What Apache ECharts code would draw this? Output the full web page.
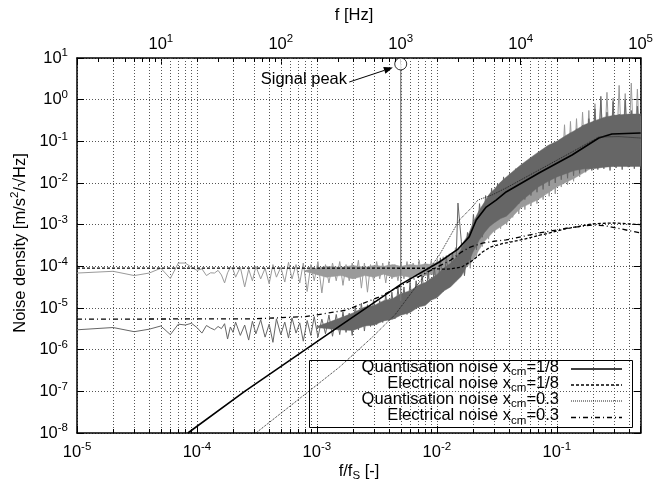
<!DOCTYPE html>
<html><head><meta charset="utf-8">
<script src="https://cdn.jsdelivr.net/npm/echarts@6/dist/echarts.min.js"></script>
<style>html,body{margin:0;padding:0;background:#fff}#c{width:656px;height:482px}</style>
</head><body><div id="c"></div>
<script>
// ---------- data ----------
// measured spectra: common frequency grid (f/fs)
const noiseF = [
1e-5,2e-5,3e-5,4e-5,5e-5,6e-5,7e-5,8e-5,9e-5,1e-4,1.1e-4,1.2e-4,1.3e-4,1.4e-4,1.5e-4,1.6e-4,1.7e-4,1.8e-4,1.9e-4,2e-4,
2.1e-4,2.3e-4,2.5e-4,2.7e-4,2.9e-4,3.1e-4,3.4e-4,3.7e-4,4.0e-4,4.3e-4,4.6e-4,5.0e-4,5.4e-4,5.8e-4,6.2e-4,6.7e-4,7.2e-4,7.7e-4,8.3e-4,8.9e-4,9.5e-4,1.02e-3,1.1e-3,1.18e-3,1.26e-3,1.35e-3,1.45e-3,
1.55e-3,1.65e-3,1.75e-3,1.86e-3,1.97e-3,2.09e-3,2.22e-3,2.35e-3,2.49e-3,2.64e-3,2.8e-3,2.97e-3,3.15e-3,3.34e-3,3.54e-3,3.75e-3,3.98e-3,4.22e-3,4.47e-3,4.74e-3,5.02e-3,5.32e-3,5.64e-3,5.98e-3,6.34e-3,6.72e-3,7.12e-3,7.55e-3,8.0e-3,8.48e-3,8.99e-3,9.53e-3,1.01e-2,
1.07e-2,1.13e-2,1.2e-2,1.27e-2,1.35e-2,1.43e-2,1.5e-2,1.6e-2,1.7e-2,1.8e-2,1.9e-2,2.02e-2,2.14e-2,2.27e-2,2.4e-2,2.55e-2,2.7e-2,2.86e-2,3.03e-2,3.21e-2,3.4e-2,3.6e-2,3.82e-2,4.05e-2,4.29e-2,4.55e-2,4.82e-2,5.11e-2,5.42e-2,5.74e-2,6.09e-2,6.45e-2,6.84e-2,7.25e-2,7.69e-2,8.15e-2,8.64e-2,9.16e-2,9.71e-2,
0.103,0.109,0.116,0.123,0.13,0.138,0.146,0.155,0.164,0.174,0.185,0.196,0.208,0.22,0.233,0.247,0.262,0.278,0.295,0.312,0.331,0.351,0.372,0.394,0.418,0.443,0.47,0.498];

const darkNoise = [
3.0e-6,3.4e-6,2.7e-6,3.1e-6,3.7e-6,2.3e-6,4.1e-6,3.9e-6,4.3e-6,3.4e-6,2.5e-6,3.8e-6,3.3e-6,3.0e-6,3.6e-6,3.2e-6,4.2e-6,1.8e-6,3.5e-6,2.6e-6,
4.6e-6,2.2e-6,3.9e-6,1.7e-6,4.8e-6,2.4e-6,5.2e-6,2.0e-6,4.1e-6,1.5e-6,5.5e-6,2.3e-6,4.6e-6,1.9e-6,5.8e-6,2.5e-6,4.4e-6,1.6e-6,5.0e-6,2.2e-6,6.2e-6,2.0e-6,5.4e-6,2.4e-6,6.8e-6,2.1e-6,7.0e-6,
2.3e-6,8.0e-6,2.6e-6,7.5e-6,2.2e-6,1.1e-5,3.0e-6,1.3e-5,2.8e-6,1.2e-5,3.6e-6,1.6e-5,4.0e-6,1.5e-5,4.5e-6,2.1e-5,5.0e-6,2.4e-5,5.5e-6,3.0e-5,7.0e-6,3.2e-5,7.0e-6,4.0e-5,9.0e-6,4.5e-5,1.1e-5,6.0e-5,1.3e-5,7.5e-5,1.6e-5,9.5e-5,2.0e-5,
1.6e-4,2.5e-5,1.8e-4,3.5e-5,2.2e-4,4.5e-5,3.3e-3,4.0e-4,6e-5,6.5e-4,1.2e-4,1.8e-3,2.5e-4,3.2e-3,5e-4,5e-3,9e-4,7.5e-3,1.2e-3,1.0e-2,1.6e-3,1.4e-2,2.0e-3,1.7e-2,2.6e-3,2.2e-2,3.2e-3,2.6e-2,4.0e-3,3.2e-2,5.0e-3,3.8e-2,6.0e-3,5.0e-2,7.0e-3,6.0e-2,8.5e-3,7.5e-2,1.0e-2,
9e-2,1.2e-2,0.12,1.3e-2,0.16,1.5e-2,0.2,1.7e-2,0.24,1.9e-2,0.35,2.0e-2,0.6,2.1e-2,1.2,2.2e-2,0.5,2.0e-2,0.9,2.3e-2,0.45,2.1e-2,1.0,2.4e-2,0.55,2.2e-2,0.7,2.5e-2];

const lightNoise = [
6.9e-5,7.6e-5,6.0e-5,6.9e-5,9.0e-5,5.1e-5,1.2e-4,1.2e-4,9.5e-5,8.0e-5,8.7e-5,6.0e-5,7.0e-5,6.9e-5,8.0e-5,6.2e-5,4.0e-5,7.0e-5,9.5e-5,8.5e-5,
5.5e-5,9.5e-5,3.2e-5,8.5e-5,4.5e-5,1.0e-4,5.0e-5,9.0e-5,3.8e-5,1.1e-4,5.5e-5,9.5e-5,4.2e-5,1.25e-4,5.0e-5,1.1e-4,4.0e-5,1.2e-4,2.5e-5,1.1e-4,4.5e-5,1.3e-4,2.3e-5,1.1e-4,4.0e-5,1.2e-4,4.5e-5,
1.3e-4,3.5e-5,1.1e-4,4.5e-5,1.2e-4,5.0e-5,1.4e-4,3.0e-5,1.2e-4,2.4e-5,1.1e-4,4.5e-5,1.3e-4,5.0e-5,1.2e-4,4.0e-5,1.3e-4,5.0e-5,1.1e-4,4.5e-5,1.2e-4,5.0e-5,1.3e-4,4.0e-5,1.2e-4,5.5e-5,1.4e-4,4.5e-5,1.2e-4,5.0e-5,1.4e-4,4.5e-5,1.5e-4,
4.5e-5,1.7e-4,5.0e-5,2.0e-4,5.0e-5,2.8e-4,5.5e-5,3.5e-4,6.0e-5,6e-4,9e-5,1.2e-3,1.6e-4,2e-3,3e-4,3.5e-3,4.5e-4,5e-3,6.5e-4,7e-3,8e-4,1e-2,1.0e-3,1.3e-2,1.5e-3,1.7e-2,1.8e-3,2.2e-2,2.3e-3,2.8e-2,2.8e-3,3.5e-2,3.2e-3,4.5e-2,4.0e-3,5.5e-2,4.8e-3,7.0e-2,5.5e-3,
9e-2,8e-3,0.25,9e-3,0.3,1.1e-2,0.35,1.4e-2,0.5,1.8e-2,0.55,2.3e-2,0.8,2.6e-2,1.0,2.8e-2,1.5,2.8e-2,1.1,3.0e-2,2.2,2.9e-2,1.4,3.0e-2,2.5,2.9e-2,1.8,3.0e-2];

// dense core of the measured bands (lower / upper edge)
const darkBandF  = [1e-3,1.5e-3,2e-3,2.5e-3,3e-3,3.6e-3,4.3e-3,5e-3,6e-3,7e-3,8e-3,9e-3,1e-2,1.15e-2,1.3e-2,1.45e-2,1.6e-2,1.8e-2,2e-2,2.25e-2,2.5e-2,2.75e-2,3e-2,3.4e-2,3.8e-2,4.4e-2,5e-2,6e-2,7e-2,8.5e-2,0.1,0.12,0.14,0.17,0.2,0.25,0.3,0.4,0.5];
const darkBandLo = [3.4e-6,3.0e-6,2.9e-6,3.7e-6,3.9e-6,4.9e-6,5.4e-6,6.7e-6,7.8e-6,1.05e-5,1.15e-5,1.55e-5,1.75e-5,2.6e-5,3.2e-5,4.4e-5,5.8e-5,1.1e-4,2.2e-4,4.2e-4,6.5e-4,9e-4,1.1e-3,1.4e-3,1.6e-3,2.4e-3,3.6e-3,5.5e-3,8e-3,1.1e-2,1.4e-2,1.7e-2,2e-2,2.2e-2,2.2e-2,2.4e-2,2.5e-2,2.5e-2,2.5e-2];
const darkBandHi = [3.6e-6,5.5e-6,7.6e-6,1.05e-5,1.15e-5,1.5e-5,1.7e-5,2.2e-5,2.6e-5,3.5e-5,4.1e-5,5.2e-5,6.3e-5,9.2e-5,1.18e-4,1.65e-4,2.6e-4,5e-4,1.1e-3,2.2e-3,3.5e-3,5.5e-3,7e-3,1.05e-2,1.4e-2,2e-2,2.7e-2,4e-2,5.5e-2,8e-2,0.1,0.14,0.18,0.25,0.3,0.38,0.42,0.45,0.45];
const lightBandF  = [8e-4,1.2e-3,1.6e-3,2e-3,2.5e-3,3e-3,3.6e-3,4.3e-3,5e-3,6e-3,7e-3,8e-3,9e-3,1e-2,1.15e-2,1.3e-2,1.45e-2,1.6e-2,1.8e-2,2e-2,2.25e-2,2.5e-2,3e-2,3.8e-2,5e-2,7e-2,0.1,0.14,0.2,0.3,0.4,0.5];
const lightBandLo = [7.5e-5,5.5e-5,6e-5,5e-5,6e-5,5.5e-5,6.5e-5,5.5e-5,6e-5,5.5e-5,6.5e-5,6e-5,6.5e-5,6e-5,6.5e-5,6e-5,7e-5,8e-5,1e-4,1.4e-4,2.5e-4,4e-4,7e-4,1.1e-3,2.5e-3,4e-3,8e-3,1.3e-2,2.4e-2,2.8e-2,2.8e-2,2.8e-2];
const lightBandHi = [8e-5,1.0e-4,9.5e-5,1.05e-4,9.5e-5,1.05e-4,1.0e-4,1.1e-4,1.0e-4,1.1e-4,1.05e-4,1.15e-4,1.1e-4,1.25e-4,1.5e-4,1.8e-4,2.4e-4,3.2e-4,5.5e-4,9e-4,1.8e-3,3e-3,5.5e-3,9e-3,1.8e-2,3.5e-2,6.5e-2,0.12,0.22,0.35,0.4,0.4];

// signal peak
const peakF = [5e-3, 5e-3];
const peakV = [1.5e-5, 7.2];
const peakArrowF = [1.86e-3, 4.3e-3];
const peakArrowV = [2.65, 5.9];

// model curves
const q18F = [8.4e-5,2.5e-4,1.27e-3,5e-3,1.05e-2,1.5e-2,1.86e-2,2.13e-2,2.58e-2,3.12e-2,3.78e-2,7.1e-2,0.134,0.224,0.288,0.5];
const q18V = [1e-8,1e-7,2.5e-6,3.7e-5,1.27e-4,2.6e-4,5.1e-4,1.29e-3,2.65e-3,3.9e-3,6.1e-3,1.74e-2,4.7e-2,0.12,0.15,0.158];
const e18F = [1e-5,8e-3,1.2e-2,1.6e-2,2e-2,2.4e-2,2.8e-2,3.5e-2,5e-2,7.1e-2,0.12,0.2,0.3,0.5];
const e18V = [9.1e-5,9.0e-5,8.5e-5,9.5e-5,1.4e-4,2.2e-4,2.9e-4,3.5e-4,4.3e-4,5.5e-4,8e-4,1.05e-3,1.1e-3,1.0e-3];
const q03F = [3.1e-4,1.54e-3,2.9e-3,4.5e-3,8.6e-3,1.05e-2,1.54e-2,1.97e-2,2.2e-2,2.9e-2,3.78e-2,7.1e-2,0.134,0.224,0.33,0.5];
const q03V = [1e-8,3.8e-7,2.0e-6,7e-6,8.5e-5,1.87e-4,1.29e-3,2.65e-3,3.9e-3,5.2e-3,7.6e-3,2.05e-2,5.55e-2,0.127,0.13,0.12];
const e03F = [1e-5,3e-4,8e-4,1.76e-3,3.3e-3,6.2e-3,1e-2,1.3e-2,1.6e-2,1.9e-2,2.4e-2,3e-2,3.78e-2,7.1e-2,0.12,0.196,0.25,0.35,0.5];
const e03V = [5.4e-6,5.5e-6,6.2e-6,8.9e-6,1.84e-5,4.7e-5,9.5e-5,1.4e-4,2.2e-4,2.9e-4,3.6e-4,4.0e-4,4.3e-4,6.3e-4,8.2e-4,9.8e-4,9.5e-4,7.8e-4,6.3e-4];

// axes
const xRange = [1e-5, 0.5];      // f/fs
const xTopRange = [2, 1e5];      // f [Hz]
const yRange = [1e-8, 10];
const xDecades = [1e-5,1e-4,1e-3,1e-2,1e-1];
const xTopDecades = [1,10,100,1000,10000];
const minorMult = [2,3,4,5,6,7,8,9];

const legendNames = ['Quantisation noise x{sub|cm}=1/8','Electrical noise x{sub|cm}=1/8','Quantisation noise x{sub|cm}=0.3','Electrical noise x{sub|cm}=0.3'];

// ---------- chart ----------
const FONT = '"Liberation Sans", Arial, Helvetica, sans-serif';
const FS = 16.5, FSS = 11.5;
const DARK = '#666666', LIGHT = '#9a9a9a';

function pow10(v){
  const e = Math.log10(v), r = Math.round(e);
  if (Math.abs(e - r) > 1e-6) return '';
  return '10{sup|' + r + '}';
}
const supRich = {sup:{fontSize:FSS, lineHeight:FSS, verticalAlign:'top', fontFamily:FONT, color:'#000'}};
const subRich = {sub:{fontSize:FSS, lineHeight:FSS, verticalAlign:'bottom', fontFamily:FONT, color:'#000'}};

const xMinor = [];
xDecades.forEach(d => minorMult.forEach(m => { const v = d*m; if (v < xRange[1]*0.999) xMinor.push(v); }));
const xTopMinor = [];
xTopDecades.forEach(d => minorMult.forEach(m => { const v = d*m; if (v > xTopRange[0]*1.001 && v < xTopRange[1]) xTopMinor.push(v); }));

const zip = (a,b) => a.map((v,i)=>[v,b[i]]);

function bandSeries(name, F, Lo, Hi, color, z){
  return {
    name, type:'custom', z, silent:true, clip:true,
    data:[[F[0], Lo[0]]],
    renderItem:(params, api)=>{
      const pts = [];
      for (let i=0;i<F.length;i++) pts.push(api.coord([F[i], Hi[i]]));
      for (let i=F.length-1;i>=0;i--) pts.push(api.coord([F[i], Lo[i]]));
      return {type:'polygon', shape:{points:pts}, style:{fill:color, stroke:color, lineWidth:0.5}};
    }
  };
}

const axisCommon = {
  type:'log', logBase:10,
  axisLine:{show:true, onZero:false, lineStyle:{color:'#000', width:1.5}},
  axisTick:{show:true, inside:true, length:7, lineStyle:{color:'#000', width:1}},
  minorTick:{show:false},
  splitLine:{show:false},
};
const labelCommon = {color:'#000', fontSize:FS, lineHeight:22, fontFamily:FONT, formatter:pow10, rich:supRich,
  showMinLabel:true, showMaxLabel:true, hideOverlap:false};

const modelLine = (name, F, V, style) => ({name, type:'line', z:5, data:zip(F,V), showSymbol:false, symbol:'none',
  smooth:false, lineStyle:style, silent:true});

const option = {
  animation:false,
  backgroundColor:'#fff',
  grid:{left:77, right:14, top:58, bottom:49, containLabel:false},
  xAxis:[
    Object.assign({}, axisCommon, {
      min:xRange[0], max:xRange[1], position:'bottom', gridIndex:0,
      axisLabel:Object.assign({}, labelCommon, {margin:8}),
      splitLine:{show:true, lineStyle:{color:'#555', type:[1,2], width:1}}
    }),
    Object.assign({}, axisCommon, {
      min:xTopRange[0], max:xTopRange[1], position:'top', gridIndex:0,
      axisLabel:Object.assign({}, labelCommon, {margin:3})
    })
  ],
  yAxis:[
    Object.assign({}, axisCommon, {
      min:yRange[0], max:yRange[1], position:'left',
      axisLabel:Object.assign({}, labelCommon, {margin:9}),
      splitLine:{show:true, lineStyle:{color:'#555', type:[1,2], width:1}}
    }),
    Object.assign({}, axisCommon, {
      min:yRange[0], max:yRange[1], position:'right',
      axisLabel:{show:false}
    })
  ],
  series:[
    { // minor vertical grid + bottom minor ticks
      type:'custom', name:'minor grid', z:1, silent:true, xAxisIndex:0, yAxisIndex:0,
      data:xMinor.map(v=>[v,1]),
      renderItem:(params, api)=>{
        const cs = params.coordSys;
        const x = Math.round(api.coord([api.value(0),1])[0]) + 0.5;
        const yb = cs.y + cs.height;
        return {type:'group', children:[
          {type:'line', shape:{x1:x,y1:cs.y,x2:x,y2:yb}, style:{stroke:'#555', lineDash:[1,2], lineWidth:1}},
          {type:'line', shape:{x1:x,y1:yb,x2:x,y2:yb-4}, style:{stroke:'#000', lineWidth:1}}
        ]};
      }
    },
    { // top axis minor ticks
      type:'custom', name:'top minor ticks', z:8, silent:true, xAxisIndex:1, yAxisIndex:0,
      data:xTopMinor.map(v=>[v,1]),
      renderItem:(params, api)=>{
        const cs = params.coordSys;
        const x = Math.round(api.coord([api.value(0),1])[0]) + 0.5;
        return {type:'line', shape:{x1:x,y1:cs.y,x2:x,y2:cs.y+4}, style:{stroke:'#000', lineWidth:1}};
      }
    },
    bandSeries('light band', lightBandF, lightBandLo, lightBandHi, LIGHT, 2),
    {name:'Measured noise (light)', type:'line', z:2, data:zip(noiseF, lightNoise), showSymbol:false, symbol:'none',
     lineStyle:{color:LIGHT, width:1}, silent:true},
    bandSeries('dark band', darkBandF, darkBandLo, darkBandHi, DARK, 3),
    {name:'Measured noise (dark)', type:'line', z:3, data:zip(noiseF, darkNoise), showSymbol:false, symbol:'none',
     lineStyle:{color:DARK, width:1}, silent:true},
    {name:'Signal peak line', type:'line', z:4, data:zip(peakF, peakV), showSymbol:false, symbol:'none',
     lineStyle:{color:'#777', width:1.2}, silent:true},
    modelLine('Quantisation noise x_cm=1/8', q18F, q18V, {color:'#000', width:1.6}),
    modelLine('Electrical noise x_cm=1/8', e18F, e18V, {color:'#000', width:1.3, type:[3,2]}),
    modelLine('Quantisation noise x_cm=0.3', q03F, q03V, {color:'#222', width:1, type:[1,1]}),
    modelLine('Electrical noise x_cm=0.3', e03F, e03V, {color:'#000', width:1.3, type:[5,3,1,3]}),
    {name:'Signal peak', type:'scatter', z:6, data:[[peakF[1], peakV[1]]], symbol:'circle', symbolSize:12,
     itemStyle:{color:'#fff', borderColor:'#000', borderWidth:1}, silent:true}
  ],
  graphic:[]
};

// legend (drawn as graphic so text can be right-aligned with sample on the right)
const legStyles = [
  {lineDash:null, width:1.6, color:'#000'},
  {lineDash:[3,2], width:1.3, color:'#000'},
  {lineDash:[1,1], width:1, color:'#222'},
  {lineDash:[5,3,1,3], width:1.3, color:'#000'}
];
const legRowY = [369, 385, 401, 417.5];
option.graphic.push({type:'rect', shape:{x:309.5, y:360.5, width:323, height:67}, style:{fill:null, stroke:'#000', lineWidth:1}, z:20, silent:true});
legendNames.forEach((t,i)=>{
  option.graphic.push({type:'text', x:559, y:legRowY[i]-2, z:20, silent:true,
    style:{text:t, align:'right', verticalAlign:'middle', fontSize:FS, lineHeight:22, fontFamily:FONT, fill:'#000', rich:subRich}});
  option.graphic.push({type:'line', z:20, silent:true, shape:{x1:571, y1:legRowY[i], x2:622, y2:legRowY[i]},
    style:{stroke:legStyles[i].color, lineWidth:legStyles[i].width, lineDash:legStyles[i].lineDash}});
});
// titles and annotation
option.graphic.push({type:'text', x:354, y:15, z:20, silent:true,
  style:{text:'f [Hz]', align:'center', verticalAlign:'middle', fontSize:FS, fontFamily:FONT, fill:'#000'}});
option.graphic.push({type:'text', x:359, y:471, z:20, silent:true,
  style:{text:'f/f{sub|S} [-]', align:'center', verticalAlign:'middle', fontSize:FS, lineHeight:22, fontFamily:FONT, fill:'#000', rich:subRich}});
option.graphic.push({type:'text', x:20, y:243, rotation:Math.PI/2, z:20, silent:true,
  style:{text:'Noise density [m/s{sup|2}/\u221AHz]', align:'center', verticalAlign:'middle', fontSize:FS, lineHeight:22, fontFamily:FONT, fill:'#000', rich:supRich}});
option.graphic.push({type:'text', x:347, y:79, z:20, silent:true,
  style:{text:'Signal peak', align:'right', verticalAlign:'middle', fontSize:FS, fontFamily:FONT, fill:'#000'}});

const chart = echarts.init(document.getElementById('c'), null, {renderer:'canvas'});
chart.setOption(option);

// annotation arrow, positioned through the axes of the peak series
const sIdx = option.series.length - 1;
const a0 = chart.convertToPixel({seriesIndex:sIdx}, [peakArrowF[0], peakArrowV[0]]);
const a1 = chart.convertToPixel({seriesIndex:sIdx}, [peakArrowF[1], peakArrowV[1]]);
const dx = a1[0]-a0[0], dy = a1[1]-a0[1], L = Math.hypot(dx,dy), ux = dx/L, uy = dy/L;
const hl = 9, hw = 3.5;
const bx = a1[0]-ux*hl, by = a1[1]-uy*hl;
option.graphic.push({type:'line', z:21, silent:true, shape:{x1:a0[0], y1:a0[1], x2:bx, y2:by}, style:{stroke:'#000', lineWidth:1}});
option.graphic.push({type:'polygon', z:21, silent:true,
  shape:{points:[[a1[0],a1[1]],[bx-uy*hw, by+ux*hw],[bx+uy*hw, by-ux*hw]]}, style:{fill:'#000'}});
chart.setOption({graphic:option.graphic});
</script></body></html>
